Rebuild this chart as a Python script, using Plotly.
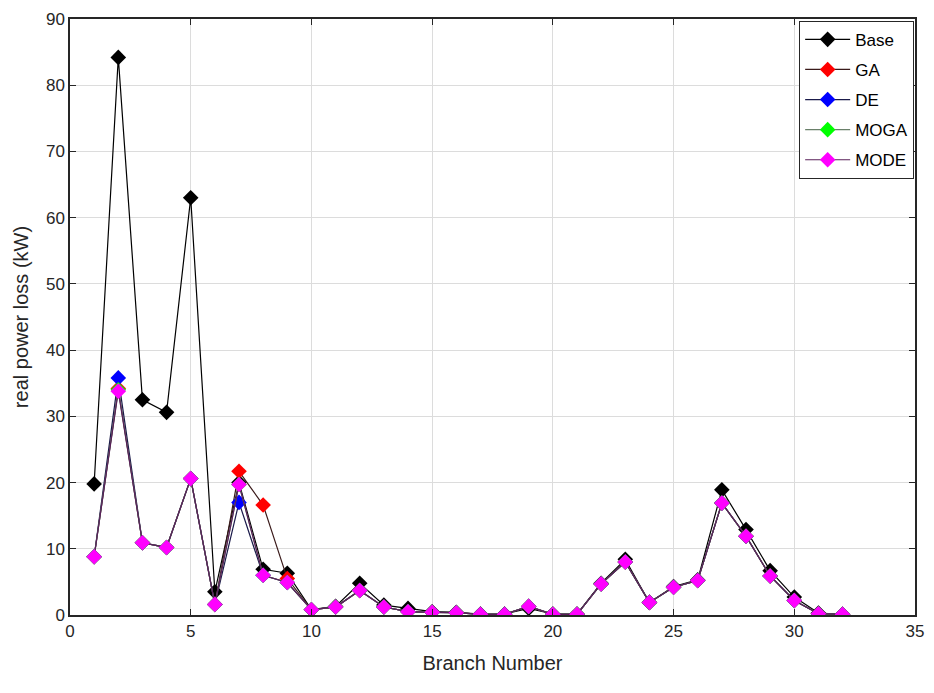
import plotly.graph_objects as go

branches = list(range(1, 33))

base = [19.8, 84.2, 32.5, 30.6, 63.0, 3.5, 20.0, 6.9, 6.3, 0.8,
        1.3, 4.8, 1.5, 1.0, 0.5, 0.4, 0.15, 0.15, 1.0, 0.15,
        0.15, 4.8, 8.4, 1.9, 4.3, 5.3, 18.9, 12.9, 6.7, 2.7,
        0.3, 0.1]
ga = [8.8, 34.2, 10.9, 10.2, 20.6, 1.6, 21.7, 16.6, 5.5, 0.8,
      1.2, 3.7, 1.2, 0.5, 0.4, 0.35, 0.1, 0.1, 1.3, 0.1,
      0.1, 4.7, 8.0, 1.9, 4.2, 5.2, 16.9, 11.9, 5.9, 2.2,
      0.2, 0.1]
de = [8.8, 35.8, 10.9, 10.2, 20.6, 1.6, 17.0, 6.0, 4.9, 0.8,
      1.2, 3.7, 1.2, 0.5, 0.4, 0.35, 0.1, 0.1, 1.3, 0.1,
      0.1, 4.7, 8.0, 1.9, 4.2, 5.2, 16.9, 11.9, 5.9, 2.2,
      0.2, 0.1]
moga = [8.8, 34.0, 10.9, 10.2, 20.6, 1.6, 19.7, 6.0, 4.9, 0.8,
        1.2, 3.7, 1.2, 0.5, 0.4, 0.35, 0.1, 0.1, 1.3, 0.1,
        0.1, 4.7, 8.0, 1.9, 4.2, 5.2, 16.9, 11.9, 5.9, 2.2,
        0.2, 0.1]
mode = [8.8, 33.8, 10.9, 10.2, 20.6, 1.6, 19.7, 6.0, 4.9, 0.8,
        1.2, 3.7, 1.2, 0.5, 0.4, 0.35, 0.1, 0.1, 1.3, 0.1,
        0.1, 4.7, 8.0, 1.9, 4.2, 5.2, 16.9, 11.9, 5.9, 2.2,
        0.2, 0.1]

series = [
    ("Base", base, "#000000", "#000000"),
    ("GA", ga, "#ff0000", "#3a1a1a"),
    ("DE", de, "#0000ff", "#1a1a4a"),
    ("MOGA", moga, "#00ff00", "#6a806a"),
    ("MODE", mode, "#ff00ff", "#5a205a"),
]

fig = go.Figure()
for name, vals, mcol, lcol in series:
    fig.add_trace(go.Scatter(
        x=branches, y=vals, name=name, mode="lines+markers",
        legendgroup=name,
        line=dict(color=lcol, width=1.2),
        marker=dict(symbol="diamond", size=12, color=mcol,
                    line=dict(width=0)),
    ))

axis_common = dict(
    showline=True, linecolor="#262626", linewidth=1.5, mirror="ticks",
    ticks="inside", ticklen=6, tickcolor="#262626",
    showgrid=True, gridcolor="#dcdcdc", gridwidth=1,
    zeroline=False,
    tickfont=dict(family="Liberation Sans, Arial", size=17, color="#262626"),
    title_font=dict(family="Liberation Sans, Arial", size=20, color="#262626"),
)

fig.update_xaxes(range=[0, 35], dtick=5, title_text="Branch Number",
                 title_standoff=16, **axis_common)
fig.update_yaxes(range=[0, 90], dtick=10, title_text="real power loss (kW)",
                 title_standoff=12, **axis_common)

fig.update_layout(
    width=934, height=693,
    margin=dict(l=70, r=11, t=10, b=78),
    plot_bgcolor="white", paper_bgcolor="white",
    showlegend=True,
    legend=dict(
        x=0.999, y=0.997, xanchor="right", yanchor="top",
        bgcolor="white", bordercolor="#262626", borderwidth=1,
        font=dict(family="Liberation Sans, Arial", size=17, color="#000000"),
        traceorder="grouped", tracegroupgap=5, itemwidth=45,
    ),
)

fig.write_html("out.html")
